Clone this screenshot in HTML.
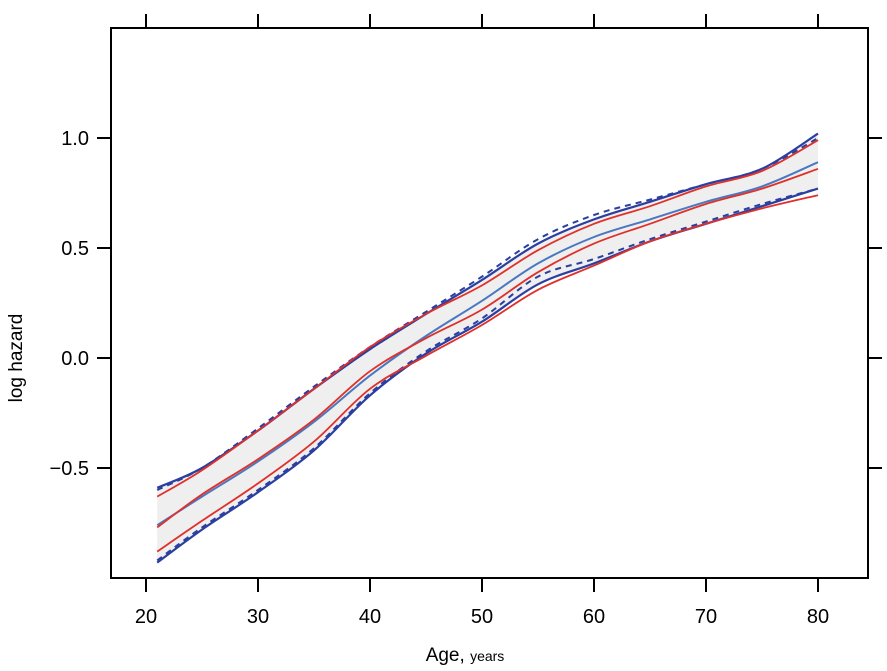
<!DOCTYPE html>
<html><head><meta charset="utf-8"><style>
body{margin:0;background:#fff;}
svg text{font-family:"Liberation Sans",Arial,sans-serif;fill:#000;}
</style></head><body>
<svg id="chart" width="887" height="666" xmlns="http://www.w3.org/2000/svg">
<g id="band"></g>
<g id="lines"></g>
<g id="axes"></g>
<text x="22" y="358" font-size="19" text-anchor="middle" transform="rotate(-90 22 358)">log hazard</text>
<text x="465" y="661" font-size="19" text-anchor="middle">Age, <tspan font-size="14">years</tspan></text>
</svg>
<script>
const ages = [21,25,30,35,40,45,50,55,60,65,70,75,80];
const blueCenter = [-0.76,-0.63,-0.47,-0.29,-0.08,0.10,0.26,0.43,0.55,0.63,0.71,0.78,0.89];
const redCenter = [-0.77,-0.62,-0.46,-0.28,-0.06,0.09,0.22,0.39,0.52,0.61,0.70,0.77,0.86];
const blueUpper = [-0.59,-0.50,-0.33,-0.14,0.04,0.20,0.355,0.52,0.63,0.71,0.79,0.86,1.02];
const blueUpperDash = [-0.60,-0.50,-0.32,-0.13,0.05,0.21,0.37,0.54,0.65,0.72,0.79,0.86,1.00];
const redUpper = [-0.63,-0.51,-0.33,-0.14,0.05,0.20,0.33,0.49,0.61,0.69,0.78,0.85,0.99];
const blueLower = [-0.93,-0.78,-0.61,-0.42,-0.17,0.02,0.165,0.335,0.43,0.53,0.61,0.69,0.77];
const blueLowerDash = [-0.92,-0.77,-0.60,-0.41,-0.16,0.03,0.18,0.37,0.45,0.54,0.62,0.70,0.77];
const redLower = [-0.88,-0.74,-0.57,-0.38,-0.14,0.01,0.15,0.31,0.42,0.53,0.61,0.68,0.74];
const xTicks = [20,30,40,50,60,70,80];
const yTicks = [-0.5,0,0.5,1.0];
const yTickLabels = ["\u22120.5","0.0","0.5","1.0"];

const L=111,R=868,T=28,B=578;
const sx=a=>146+(a-20)*11.2;
const sy=v=>358-v*220;
const NS="http://www.w3.org/2000/svg";
function pts(ys){return ages.map((a,i)=>[sx(a),sy(ys[i])]);}
function spline(p){
  let d="M"+p[0][0]+","+p[0][1];
  for(let i=0;i<p.length-1;i++){
    const p0=p[Math.max(i-1,0)],p1=p[i],p2=p[i+1],p3=p[Math.min(i+2,p.length-1)];
    const c1=[p1[0]+(p2[0]-p0[0])/6,p1[1]+(p2[1]-p0[1])/6];
    const c2=[p2[0]-(p3[0]-p1[0])/6,p2[1]-(p3[1]-p1[1])/6];
    d+=` C${c1[0]},${c1[1]} ${c2[0]},${c2[1]} ${p2[0]},${p2[1]}`;
  }
  return d;
}
function mk(tag,parent,attrs){const e=document.createElementNS(NS,tag);for(const k in attrs)e.setAttribute(k,attrs[k]);parent.appendChild(e);return e;}
const band=document.getElementById('band');
const up=pts(blueUpper),lo=pts(blueLower).reverse();
const bp=mk('path',band,{d:spline(up)+" L"+spline(lo).slice(1)+" Z",fill:"#efefef",stroke:"none"});


const lines=document.getElementById('lines');
const series=[
 ['blue-upper',blueUpper,'#2b3fa0',null,2.2],
 ['blue-upper-dashed',blueUpperDash,'#2b3fa0','6,5',2],
 ['blue-lower',blueLower,'#2b3fa0',null,2.2],
 ['blue-lower-dashed',blueLowerDash,'#2b3fa0','6,5',2],
 ['blue-center',blueCenter,'#4a78c0',null,2],
 ['red-upper',redUpper,'#e0302a',null,1.8],
 ['red-lower',redLower,'#e0302a',null,1.8],
 ['red-center',redCenter,'#e0302a',null,1.8]];
series.forEach(s=>{
  const a={d:spline(pts(s[1])),fill:"none",stroke:s[2],"stroke-width":s[4]};
  if(s[3])a["stroke-dasharray"]=s[3];
  const p=mk('path',lines,a);
  
  
});
const ax=document.getElementById('axes');
const fr=mk('rect',ax,{x:L,y:T,width:R-L,height:B-T,fill:"none",stroke:"#000","stroke-width":2});


xTicks.forEach(t=>{
  const x=sx(t);
  mk('line',ax,{x1:x,x2:x,y1:B,y2:B+14,stroke:"#000","stroke-width":2});
  mk('line',ax,{x1:x,x2:x,y1:T,y2:T-14,stroke:"#000","stroke-width":2});
  const tx=mk('text',ax,{x:x,y:623,"font-size":20,"text-anchor":"middle"});
  tx.textContent=t;
  
  
});
yTicks.forEach((t,i)=>{
  const y=sy(t);
  mk('line',ax,{x1:L,x2:L-14,y1:y,y2:y,stroke:"#000","stroke-width":2});
  mk('line',ax,{x1:R,x2:R+14,y1:y,y2:y,stroke:"#000","stroke-width":2});
  const tx=mk('text',ax,{x:89,y:y+7,"font-size":20,"text-anchor":"end"});
  tx.textContent=yTickLabels[i];
  
  
});
</script>
</body></html>
